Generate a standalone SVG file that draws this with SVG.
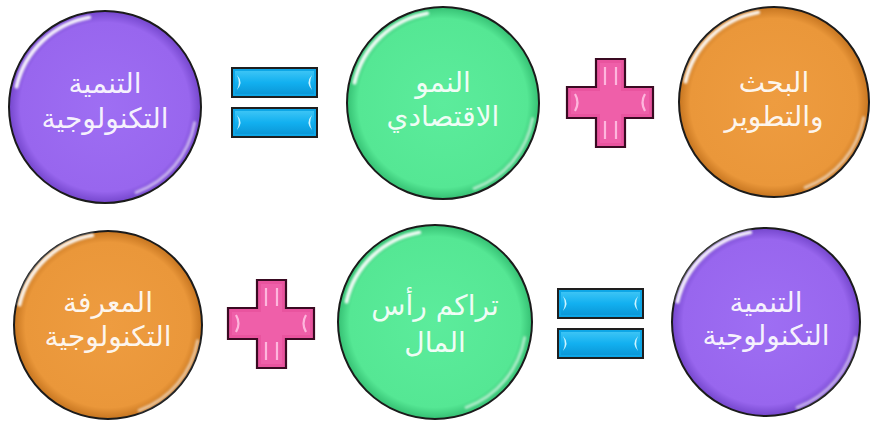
<svg xmlns="http://www.w3.org/2000/svg" width="870" height="423" viewBox="0 0 870 423">
<style>
.ring{stroke:#1b1b1b;stroke-width:2}
.hl{fill:none;stroke:#ffffff;stroke-width:4;stroke-linecap:round;opacity:0.9}
.hl2{fill:none;stroke:#ffffff;stroke-width:3;stroke-linecap:round;opacity:0.55}
.lbl{font-family:"DejaVu Sans","Noto Sans",sans-serif;font-size:28px;fill:#ffffff;fill-opacity:0.93;text-anchor:middle;direction:rtl}
.barOut{fill:#0ea6e6;stroke:#1e1e1e;stroke-width:2}
.mark{fill:#d8f8ff;opacity:0.95}
.plusOut{fill:#e9549f;stroke:#3a0a22;stroke-width:2.2}
.plusIn{fill:#ef5fa9}
.plusHl{fill:none;stroke:#ffc0e2;stroke-width:2.2;opacity:0.9}
</style>
<defs>
<radialGradient id="gP" cx="50%" cy="50%" r="50%">
<stop offset="0" stop-color="#9e6ef3"/><stop offset="0.88" stop-color="#9866ee"/><stop offset="1" stop-color="#7446cc"/>
</radialGradient>
<radialGradient id="gG" cx="50%" cy="50%" r="50%">
<stop offset="0" stop-color="#5cec9c"/><stop offset="0.88" stop-color="#55e794"/><stop offset="1" stop-color="#35c073"/>
</radialGradient>
<radialGradient id="gO" cx="50%" cy="50%" r="50%">
<stop offset="0" stop-color="#ee9c40"/><stop offset="0.88" stop-color="#ea973a"/><stop offset="1" stop-color="#c67520"/>
</radialGradient>
<linearGradient id="gBar" x1="0" y1="0" x2="0" y2="1">
<stop offset="0" stop-color="#3cc4f5"/><stop offset="0.5" stop-color="#12b0f0"/><stop offset="1" stop-color="#0b98d8"/>
</linearGradient>
<filter id="soft" x="-20%" y="-20%" width="140%" height="140%"><feGaussianBlur stdDeviation="1"/></filter>
<g id="gloss">
<path class="hl" filter="url(#soft)" d="M-88.5,-20.4 A91,91 0 0 1 -15.8,-89.6"/>
<path class="hl2" filter="url(#soft)" d="M89.6,15.8 A91,91 0 0 1 31.1,85.5"/>
</g>
<g id="eq">
<rect class="barOut" x="0" y="0" width="85" height="29"/>
<rect x="3" y="3" width="79" height="23" fill="url(#gBar)"/>
<path class="mark" d="M5,7 Q12,14.5 5,22 Q8.5,14.5 5,7 Z"/>
<path class="mark" d="M80,7 Q73,14.5 80,22 Q76.5,14.5 80,7 Z"/>
<rect class="barOut" x="0" y="40" width="85" height="29"/>
<rect x="3" y="43" width="79" height="23" fill="url(#gBar)"/>
<path class="mark" d="M5,47 Q12,54.5 5,62 Q8.5,54.5 5,47 Z"/>
<path class="mark" d="M80,47 Q73,54.5 80,62 Q76.5,54.5 80,47 Z"/>
</g>
<g id="plus">
<path class="plusOut" d="M29,0 H58 V28 H86 V59 H58 V88 H29 V59 H0 V28 H29 Z"/>
<path class="plusIn" d="M33,4 H54 V32 H82 V55 H54 V84 H33 V55 H4 V32 H33 Z"/>
<path class="plusHl" d="M38,8 V26 M49,8 V26 M38,62 V80 M49,62 V80"/>
<path class="plusHl" d="M8,35 Q13,43.5 8,52 M78,35 Q73,43.5 78,52"/>
</g>
</defs>

<g id="connectors"></g>

<g id="node-tech-dev-1" transform="translate(105,107)">
<circle class="ring" r="96" fill="url(#gP)"/>
<use href="#gloss"/>
<text class="lbl" x="0" y="-14">التنمية</text>
<text class="lbl" x="0" y="21">التكنولوجية</text>
</g>

<g id="op-eq-1" transform="translate(232,68)"><use href="#eq"/></g>

<g id="node-econ-growth" transform="translate(443,103)">
<circle class="ring" r="96" fill="url(#gG)"/>
<use href="#gloss"/>
<text class="lbl" x="0" y="-11">النمو</text>
<text class="lbl" x="0" y="23">الاقتصادي</text>
</g>

<g id="op-plus-1" transform="translate(567,59)"><use href="#plus"/></g>

<g id="node-rnd" transform="translate(774,102)">
<circle class="ring" r="95" fill="url(#gO)"/>
<use href="#gloss"/>
<text class="lbl" x="0" y="-10">البحث</text>
<text class="lbl" x="0" y="24">والتطوير</text>
</g>

<g id="node-tech-knowledge" transform="translate(108,325)">
<circle class="ring" r="94" fill="url(#gO)"/>
<use href="#gloss"/>
<text class="lbl" x="0" y="-13">المعرفة</text>
<text class="lbl" x="0" y="21">التكنولوجية</text>
</g>

<g id="op-plus-2" transform="translate(228,280)"><use href="#plus"/></g>

<g id="node-capital" transform="translate(435,322)">
<circle class="ring" r="97" fill="url(#gG)"/>
<use href="#gloss"/>
<text class="lbl" x="0" y="-7">تراكم رأس</text>
<text class="lbl" x="0" y="30">المال</text>
</g>

<g id="op-eq-2" transform="translate(558,289)"><use href="#eq"/></g>

<g id="node-tech-dev-2" transform="translate(766,322)">
<circle class="ring" r="94" fill="url(#gP)"/>
<use href="#gloss"/>
<text class="lbl" x="0" y="-10">التنمية</text>
<text class="lbl" x="0" y="23">التكنولوجية</text>
</g>
</svg>
